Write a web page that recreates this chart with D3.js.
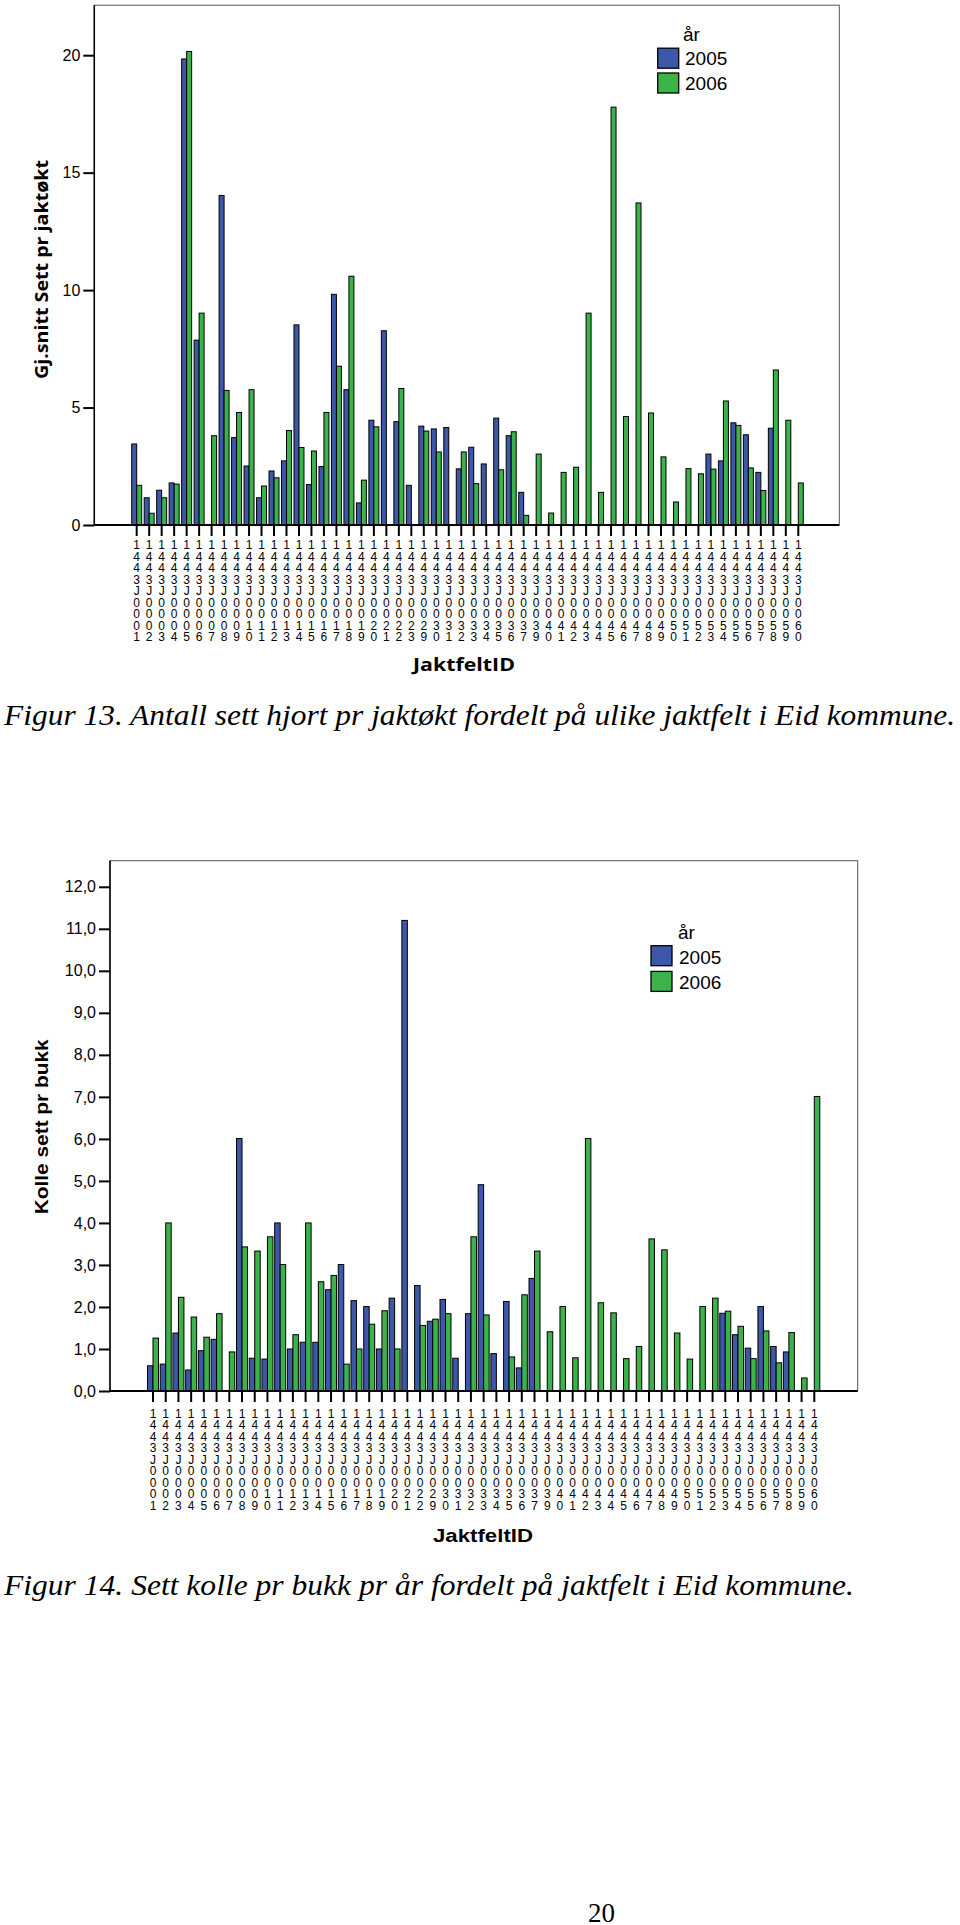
<!DOCTYPE html>
<html><head><meta charset="utf-8">
<script src="https://cdn.jsdelivr.net/npm/d3@7"></script>
<style>body{margin:0;background:#fff}</style>
</head><body>
<svg id="page" width="960" height="1925" xmlns="http://www.w3.org/2000/svg"></svg>
<script>
// ---------------- DATA ----------------
const years = ["2005", "2006"];
const legendTitle = "år";

// Figur 13: Gj.snitt Sett pr jaktøkt
const cats1 = ["1443J0001","1443J0002","1443J0003","1443J0004","1443J0005","1443J0006","1443J0007","1443J0008","1443J0009","1443J0010",
  "1443J0011","1443J0012","1443J0013","1443J0014","1443J0015","1443J0016","1443J0017","1443J0018","1443J0019","1443J0020",
  "1443J0021","1443J0022","1443J0023","1443J0029","1443J0030","1443J0031","1443J0032","1443J0033","1443J0034","1443J0035",
  "1443J0036","1443J0037","1443J0039","1443J0040","1443J0041","1443J0042","1443J0043","1443J0044","1443J0045","1443J0046",
  "1443J0047","1443J0048","1443J0049","1443J0050","1443J0051","1443J0052","1443J0053","1443J0054","1443J0055","1443J0056",
  "1443J0057","1443J0058","1443J0059","1443J0060"];
const sett2005 = [3.45,1.16,1.48,1.79,19.84,7.87,null,14.03,3.72,2.51,
  1.16,2.30,2.73,8.52,1.72,2.49,9.82,5.76,0.94,4.46,
  8.27,4.40,1.69,4.21,4.09,4.15,2.39,3.31,2.60,4.55,
  3.80,1.39,null,null,null,null,null,null,null,null,
  null,null,null,null,null,null,3.02,2.73,4.35,3.84,
  2.24,4.12,null,null];
const sett2006 = [1.69,0.50,1.16,1.74,20.16,9.02,3.80,5.73,4.79,5.76,
  1.66,2.01,4.02,3.30,3.15,4.79,6.76,10.59,1.91,4.18,
  null,5.81,null,4.00,3.11,null,3.11,1.76,null,2.35,
  3.97,0.41,3.02,0.51,2.24,2.46,9.02,1.39,17.79,4.62,
  13.71,4.77,2.90,0.98,2.40,2.18,2.38,5.28,4.24,2.43,
  1.47,6.60,4.46,1.79];
const yTicks1 = [0, 5, 10, 15, 20];

// Figur 14: Kolle sett pr bukk
const cats2 = ["1443J0001","1443J0002","1443J0003","1443J0004","1443J0005","1443J0006","1443J0007","1443J0008","1443J0009","1443J0010",
  "1443J0011","1443J0012","1443J0013","1443J0014","1443J0015","1443J0016","1443J0017","1443J0018","1443J0019","1443J0020",
  "1443J0021","1443J0022","1443J0029","1443J0030","1443J0031","1443J0032","1443J0033","1443J0034","1443J0035","1443J0036",
  "1443J0037","1443J0039","1443J0040","1443J0041","1443J0042","1443J0043","1443J0044","1443J0045","1443J0046","1443J0047",
  "1443J0048","1443J0049","1443J0050","1443J0051","1443J0052","1443J0053","1443J0054","1443J0055","1443J0056","1443J0057",
  "1443J0058","1443J0059","1443J0060"];
const kolle2005 = [0.60,0.64,1.38,0.50,0.96,1.23,null,6.01,0.78,0.76,
  4.00,1.00,1.16,1.16,2.41,3.01,2.15,2.01,1.00,2.21,
  11.20,2.51,1.66,2.18,0.78,1.84,4.91,0.89,2.13,0.55,
  2.68,null,null,null,null,null,null,null,null,null,
  null,null,null,null,null,1.85,1.34,1.02,2.01,1.06,
  0.93,null,null];
const kolle2006 = [1.26,4.00,2.23,1.76,1.28,1.84,0.93,3.43,3.33,3.67,
  3.01,1.34,4.00,2.60,2.75,0.64,1.00,1.59,1.91,1.00,
  null,1.56,1.71,1.84,null,3.67,1.81,null,0.81,2.29,
  3.33,1.41,2.01,0.79,6.01,2.10,1.86,0.77,1.06,3.62,
  3.36,1.38,0.76,2.01,2.21,1.90,1.54,0.77,1.43,0.67,
  1.39,0.31,7.01];
const yTicks2 = [0,1,2,3,4,5,6,7,8,9,10,11,12];

const captions = [
  "Figur 13. Antall sett hjort pr jaktøkt fordelt på ulike jaktfelt i Eid kommune.",
  "Figur 14. Sett kolle pr bukk pr år fordelt på jaktfelt i Eid kommune."
];
const pageNumber = "20";

// ---------------- STYLE ----------------
const colors = {"2005": "#3d58a8", "2006": "#3cb34a"};
const svg = d3.select("#page");

function drawChart(cfg) {
  const g = svg.append("g");
  const s = (cfg.lastCenter - cfg.firstCenter) / (cfg.cats.length - 1);
  const x = d3.scaleBand().domain(cfg.cats)
    .range([cfg.firstCenter - s / 2, cfg.lastCenter + s / 2])
    .paddingInner(cfg.pad).paddingOuter(cfg.pad / 2);
  const xs = d3.scaleBand().domain(years).range([0, x.bandwidth()]);
  const y = d3.scaleLinear().domain([0, cfg.yRefVal]).range([cfg.base, cfg.yRefPx]);

  // frame
  g.append("rect").attr("x", cfg.left).attr("y", cfg.top)
    .attr("width", cfg.right - cfg.left).attr("height", cfg.base - cfg.top)
    .attr("fill", "none").attr("stroke", "#555").attr("stroke-width", 1);

  // bars
  const series = [{key: "2005", vals: cfg.s05}, {key: "2006", vals: cfg.s06}];
  series.forEach(se => {
    const data = cfg.cats.map((c, i) => ({c, v: se.vals[i]})).filter(d => d.v !== null);
    g.append("g").selectAll("rect").data(data).join("rect")
      .attr("x", d => x(d.c) + xs(se.key))
      .attr("width", xs.bandwidth())
      .attr("y", d => y(d.v))
      .attr("height", d => y(0) - y(d.v))
      .attr("fill", colors[se.key])
      .attr("stroke", "#000").attr("stroke-width", 1);
  });

  // y axis
  const ya = g.append("g").attr("transform", `translate(${cfg.left},0)`)
    .call(d3.axisLeft(y).tickValues(cfg.yTicks).tickSize(11).tickPadding(3).tickFormat(cfg.fmt));
  ya.select(".domain").remove();
  ya.selectAll(".tick line").attr("stroke", "#000").attr("stroke-width", 2);
  ya.selectAll(".tick text").attr("font-family", "Liberation Sans, Arial, sans-serif")
    .attr("font-size", cfg.yFont).attr("fill", "#000");
  g.append("line").attr("x1", cfg.left).attr("x2", cfg.left).attr("y1", cfg.top).attr("y2", cfg.base)
    .attr("stroke", "#000").attr("stroke-width", 1.5);

  // x axis
  const xa = g.append("g").attr("transform", `translate(0,${cfg.base})`)
    .call(d3.axisBottom(x).tickSize(11).tickSizeOuter(0));
  xa.select(".domain").remove();
  xa.selectAll(".tick line").attr("stroke", "#000").attr("stroke-width", 2);
  xa.selectAll(".tick text").each(function(d) {
    const t = d3.select(this).text(null).attr("y", null).attr("dy", null)
      .attr("font-family", "Liberation Sans, Arial, sans-serif").attr("font-size", 12)
      .attr("fill", "#000").attr("text-anchor", "middle");
    [...d].forEach((ch, i) => t.append("tspan").attr("x", 0).attr("y", cfg.labOff + i * 11.5).text(ch));
  });
  g.append("line").attr("x1", cfg.left).attr("x2", cfg.right).attr("y1", cfg.base).attr("y2", cfg.base)
    .attr("stroke", "#000").attr("stroke-width", 2);

  // titles
  g.append("text").attr("transform", `translate(${cfg.yTitleX},${cfg.yTitleY}) rotate(-90)`)
    .attr("text-anchor", "middle").attr("font-family", cfg.titleFont).attr("font-weight", "bold")
    .attr("font-size", cfg.titleSize).attr("textLength", cfg.yTitleLen).attr("lengthAdjust", "spacingAndGlyphs")
    .text(cfg.yTitle);
  g.append("text").attr("x", cfg.xTitleX - cfg.xTitleLen / 2).attr("y", cfg.xTitleY)
    .attr("font-family", cfg.titleFont).attr("font-weight", "bold")
    .attr("font-size", cfg.titleSize).attr("textLength", cfg.xTitleLen).attr("lengthAdjust", "spacingAndGlyphs")
    .text("JaktfeltID");

  // legend
  const lg = g.append("g").attr("font-family", "Liberation Sans, Arial, sans-serif").attr("font-size", 19);
  lg.append("text").attr("x", cfg.leg.titleX).attr("y", cfg.leg.titleY).text(legendTitle);
  years.forEach((yr, i) => {
    lg.append("rect").attr("x", cfg.leg.swX).attr("y", cfg.leg.swY[i]).attr("width", 21).attr("height", 20)
      .attr("fill", colors[yr]).attr("stroke", "#000").attr("stroke-width", 1.3);
    lg.append("text").attr("x", cfg.leg.textX).attr("y", cfg.leg.textY[i]).text(yr);
  });
}

drawChart({
  cats: cats1, s05: sett2005, s06: sett2006, yTicks: yTicks1, fmt: d3.format("d"),
  left: 94.3, right: 839.3, top: 5.2, base: 525, yRefVal: 20, yRefPx: 55.2,
  firstCenter: 136.7, lastCenter: 798.3, pad: 0.2, yFont: 16, labOff: 24.3,
  titleFont: "Open Sans, sans-serif", titleSize: 18,
  yTitle: "Gj.snitt Sett pr jaktøkt", yTitleX: 48, yTitleY: 269.5, yTitleLen: 219,
  xTitleX: 464, xTitleY: 670.7, xTitleLen: 102,
  leg: {titleX: 683, titleY: 41, swX: 657.7, swY: [48.2, 73], textX: 685, textY: [65.3, 89.8]}
});

drawChart({
  cats: cats2, s05: kolle2005, s06: kolle2006, yTicks: yTicks2, fmt: d3.format(".1f"),
  left: 110, right: 857.7, top: 860.7, base: 1391, yRefVal: 12, yRefPx: 886.8,
  firstCenter: 153, lastCenter: 814.3, pad: 0.135, yFont: 16, labOff: 26.6,
  titleFont: "Liberation Sans, Arial, sans-serif", titleSize: 19,
  yTitle: "Kolle sett pr bukk", yTitleX: 48, yTitleY: 1126.8, yTitleLen: 175,
  xTitleX: 483, xTitleY: 1541.7, xTitleLen: 100,
  leg: {titleX: 678, titleY: 938.6, swX: 651, swY: [945.7, 971.4], textX: 679, textY: [963.8, 988.8]}
});
// comma decimal for figure 14 ticks
svg.selectAll("g").filter(function(){return false;});
d3.selectAll("text").each(function(){
  const t = d3.select(this);
  if (!t.selectAll("tspan").size() && /^\d+\.0$/.test(t.text())) t.text(t.text().replace(".", ","));
});

// captions
const capY = [725, 1595], capLen = [951, 850];
captions.forEach((c, i) => {
  svg.append("text").attr("x", 4).attr("y", capY[i])
    .attr("font-family", "Liberation Serif, Times New Roman, serif").attr("font-style", "italic")
    .attr("font-size", 30).attr("textLength", capLen[i]).attr("lengthAdjust", "spacingAndGlyphs")
    .text(c);
});
svg.append("text").attr("x", 601.5).attr("y", 1922).attr("text-anchor", "middle")
  .attr("font-family", "Liberation Serif, Times New Roman, serif").attr("font-size", 27).text(pageNumber);
</script>
</body></html>
